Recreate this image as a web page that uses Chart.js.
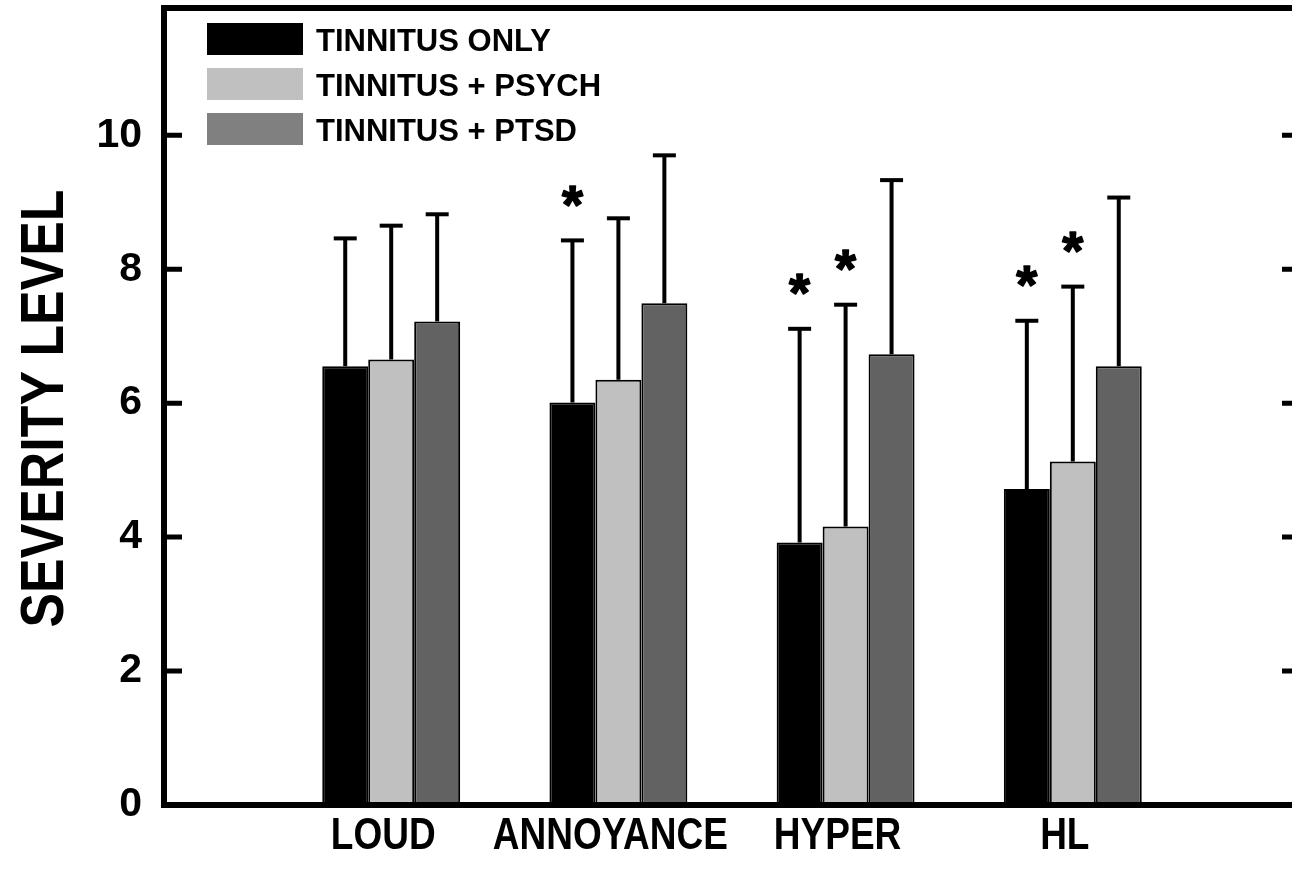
<!DOCTYPE html>
<html>
<head>
<meta charset="utf-8">
<script src="https://cdn.jsdelivr.net/npm/chart.js@4.4.1/dist/chart.umd.min.js"></script>
<style>
  html, body { margin: 0; padding: 0; background: #fff; overflow: hidden; }
  #wrap { position: relative; width: 1310px; height: 874px; }
</style>
</head>
<body>
<div id="wrap"><canvas id="c"></canvas></div>
<script>
// ---------- DATA ----------
const categories = ['LOUD', 'ANNOYANCE', 'HYPER', 'HL'];
const seriesNames = ['TINNITUS ONLY', 'TINNITUS + PSYCH', 'TINNITUS + PTSD'];
const tinnitusOnly  = [6.55, 6.01, 3.92, 4.72];
const tinnitusPsych = [6.65, 6.35, 4.16, 5.13];
const tinnitusPtsd  = [7.22, 7.49, 6.73, 6.55];
const sdOnly  = [1.91, 2.42, 3.19, 2.51];
const sdPsych = [2.00, 2.41, 3.31, 2.61];
const sdPtsd  = [1.60, 2.21, 2.60, 2.52];
const sigOnly  = [false, true, true, true];
const sigPsych = [false, false, true, true];
const sigPtsd  = [false, false, false, false];
const yTicks = [0, 2, 4, 6, 8, 10];
const yMax = 11.9;
const yTitle = 'SEVERITY LEVEL';

// ---------- STYLE ----------
const FONT = '"Liberation Sans", Arial, sans-serif';
const barColors = ['#000000', '#c0c0c0', '#626262'];
const legendColors = ['#000000', '#c0c0c0', '#808080'];

const pad = arr => [null, ...arr, null];
const labels = ['', ...categories, ''];
const values = [tinnitusOnly, tinnitusPsych, tinnitusPtsd];
const sds = [sdOnly, sdPsych, sdPtsd];
const sigs = [sigOnly, sigPsych, sigPtsd];

Chart.defaults.color = '#000';
Chart.defaults.font.family = FONT;

const framePlugin = {
  id: 'frame',
  afterDatasetsDraw(chart) {
    const ctx = chart.ctx;
    const a = chart.chartArea;
    const y = chart.scales.y;
    const x = chart.scales.x;
    ctx.save();
    // error bars + significance marks
    values.forEach((vals, i) => {
      const meta = chart.getDatasetMeta(i);
      vals.forEach((v, j) => {
        const el = meta.data[j + 1];
        if (!el) return;
        const top = y.getPixelForValue(v + sds[i][j]);
        ctx.strokeStyle = '#000';
        ctx.lineWidth = 4;
        ctx.lineCap = 'butt';
        ctx.beginPath();
        ctx.moveTo(el.x, el.y);
        ctx.lineTo(el.x, top);
        ctx.stroke();
        ctx.beginPath();
        ctx.moveTo(el.x - 11.5, top);
        ctx.lineTo(el.x + 11.5, top);
        ctx.stroke();
        if (sigs[i][j]) {
          ctx.font = 'bold 54px ' + FONT;
          ctx.textAlign = 'center';
          ctx.textBaseline = 'alphabetic';
          ctx.fillStyle = '#000';
          ctx.lineWidth = 1.5;
          ctx.lineJoin = 'round';
          const m = ctx.measureText('*');
          const cy = top - 44;
          const off = (m.actualBoundingBoxAscent - m.actualBoundingBoxDescent) / 2;
          ctx.fillText('*', el.x, cy + off);
          ctx.strokeText('*', el.x, cy + off);
        }
      });
    });
    // frame
    ctx.strokeStyle = '#000';
    ctx.lineWidth = 6;
    ctx.lineCap = 'square';
    ctx.lineJoin = 'miter';
    ctx.beginPath();
    ctx.moveTo(a.left, a.bottom);
    ctx.lineTo(a.left, a.top);
    ctx.lineTo(a.right, a.top);
    ctx.lineTo(a.right, a.bottom);
    ctx.closePath();
    ctx.stroke();
    // inward ticks
    ctx.lineWidth = 5;
    ctx.lineCap = 'butt';
    yTicks.forEach(t => {
      if (t === 0) return;
      const py = y.getPixelForValue(t);
      ctx.beginPath();
      ctx.moveTo(a.left, py); ctx.lineTo(a.left + 18, py);
      ctx.moveTo(a.right, py); ctx.lineTo(a.right - 18, py);
      ctx.stroke();
    });
    // legend
    const bx = a.left + 43, by0 = a.top + 15;
    chart.data.datasets.forEach((ds, i) => {
      const by = by0 + i * 45;
      ctx.fillStyle = legendColors[i];
      ctx.fillRect(bx, by, 96, 32);
      ctx.fillStyle = '#000';
      ctx.font = 'bold 31px ' + FONT;
      ctx.textAlign = 'left';
      ctx.textBaseline = 'middle';
      ctx.fillText(ds.label, bx + 109, by + 19);
    });
    // category labels (vertically stretched, as in the original)
    ctx.fillStyle = '#000';
    ctx.font = 'bold 37px ' + FONT;
    ctx.textAlign = 'center';
    ctx.textBaseline = 'middle';
    labels.forEach((lab, k) => {
      if (!lab) return;
      const px = x.getPixelForTick(k) - 8;
      ctx.save();
      ctx.translate(px, a.bottom + 32);
      ctx.scale(1, 1.2);
      ctx.fillText(lab, 0, 0);
      ctx.restore();
    });
    // y axis title (condensed along its length)
    ctx.save();
    ctx.translate(46, (a.top + a.bottom) / 2 + 2);
    ctx.rotate(-Math.PI / 2);
    ctx.scale(0.85, 1);
    ctx.font = 'bold 61px ' + FONT;
    ctx.textAlign = 'center';
    ctx.textBaseline = 'middle';
    ctx.fillText(yTitle, 0, 0);
    ctx.restore();
    ctx.restore();
  }
};

new Chart(document.getElementById('c'), {
  type: 'bar',
  data: {
    labels: labels,
    datasets: values.map((vals, i) => ({
      label: seriesNames[i],
      data: pad(vals),
      backgroundColor: barColors[i],
      borderColor: '#000',
      borderWidth: 2,
      borderSkipped: 'bottom',
      categoryPercentage: 0.607,
      barPercentage: 1.0
    }))
  },
  options: {
    responsive: true,
    maintainAspectRatio: false,
    animation: false,
    layout: { padding: { left: 0, top: 8, right: 10, bottom: 0 } },
    plugins: { legend: { display: false }, tooltip: { enabled: false } },
    scales: {
      x: {
        offset: false,
        grid: { display: false, drawTicks: false },
        border: { display: false },
        ticks: { display: false },
        afterFit(s) { s.height = 69; s.paddingLeft = 0; s.paddingRight = 0; }
      },
      y: {
        min: 0,
        max: yMax,
        afterBuildTicks(s) { s.ticks = yTicks.map(v => ({ value: v })); },
        grid: { display: false, drawTicks: false },
        border: { display: false },
        ticks: { font: { size: 41, weight: 'bold' }, padding: 22 },
        title: { display: false },
        afterFit(s) { s.width = 164; s.paddingTop = 0; s.paddingBottom = 0; }
      }
    }
  },
  plugins: [framePlugin]
});
</script>
</body>
</html>
